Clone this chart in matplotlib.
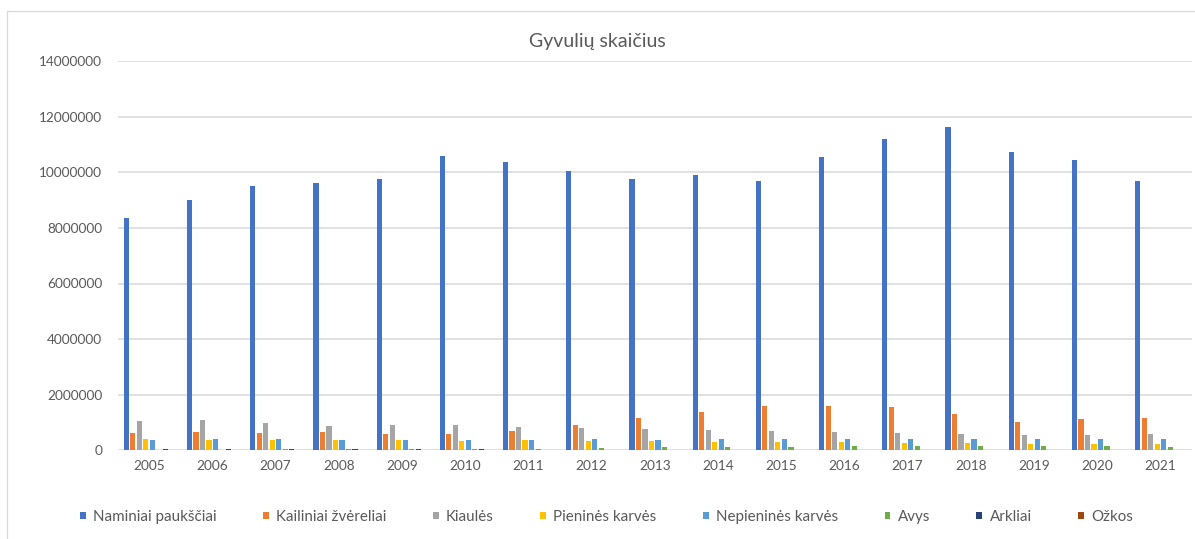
import matplotlib
matplotlib.use("Agg")
import matplotlib.pyplot as plt
import numpy as np
from matplotlib.patches import Rectangle

plt.rcParams['font.family'] = ['Lato', 'DejaVu Sans']

years = [str(y) for y in range(2005, 2022)]

series_names = [
    "Naminiai paukščiai", "Kailiniai žvėreliai", "Kiaulės", "Pieninės karvės",
    "Nepieninės karvės", "Avys", "Arkliai", "Ožkos",
]

naminiai_pauksciai = [8340000, 9020000, 9490000, 9610000, 9770000, 10580000, 10370000, 10050000,
                      9770000, 9920000, 9670000, 10550000, 11210000, 11640000, 10740000, 10430000, 9680000]
kailiniai_zvereliai = [633000, 669000, 633000, 669000, 576000, 586000, 709000, 921000,
                       1170000, 1390000, 1600000, 1600000, 1570000, 1320000, 1030000, 1130000, 1160000]
kiaules = [1065000, 1100000, 1000000, 885000, 921000, 921000, 853000, 802000,
           766000, 730000, 694000, 669000, 633000, 586000, 550000, 550000, 586000]
pienines_karves = [406000, 381000, 381000, 381000, 381000, 349000, 360000, 324000,
                   324000, 299000, 299000, 299000, 263000, 263000, 237000, 237000, 237000]
nepienines_karves = [381000, 417000, 417000, 381000, 381000, 381000, 381000, 417000,
                     381000, 417000, 417000, 417000, 417000, 417000, 396000, 396000, 396000]
avys = [20000, 22000, 50000, 50000, 50000, 52000, 50000, 94000,
        119000, 108000, 130000, 166000, 166000, 166000, 166000, 144000, 130000]
arkliai = [50000, 50000, 50000, 50000, 48000, 47000, 8000, 8000,
           7000, 7000, 7000, 6000, 6000, 6000, 6000, 5000, 5000]
ozkos = [6000, 6000, 6000, 5000, 5000, 5000, 5000, 5000,
         5000, 5000, 5000, 5000, 4000, 4000, 4000, 4000, 4000]

y_ticks = [0, 2000000, 4000000, 6000000, 8000000, 10000000, 12000000, 14000000]

series_values = [naminiai_pauksciai, kailiniai_zvereliai, kiaules, pienines_karves,
                 nepienines_karves, avys, arkliai, ozkos]
colors = ["#4472C4", "#ED7D31", "#A5A5A5", "#FFC000",
          "#5B9BD5", "#70AD47", "#264478", "#9E480E"]

W, H = 1195, 539
fig = plt.figure(figsize=(W / 100, H / 100), dpi=100)
fig.patch.set_facecolor("white")

# outer chart frame
fig.patches.append(Rectangle((7 / W, -0.05), 1.2, 1 - 11 / H + 0.05, transform=fig.transFigure,
                             fill=False, edgecolor="#D9D9D9", linewidth=0.9))

ax = fig.add_axes([117.5 / W, (H - 450.3) / H, (1192 - 117.5) / W, (450.3 - 61.1) / H])

x = np.arange(len(years))
slot = 0.103
bar_w = 0.082
n = len(series_values)
for i, (name, vals, col) in enumerate(zip(series_names, series_values, colors)):
    offs = (i - (n - 1) / 2) * slot
    ax.bar(x + offs, vals, width=bar_w, color=col, label=name, zorder=3)

ax.set_xlim(-0.5, len(years) - 0.5)
ax.set_ylim(0, 14000000)
ax.set_yticks(y_ticks)
ax.set_yticklabels([str(v) for v in y_ticks])
ax.set_xticks(x)
ax.set_xticklabels(years)

for s in ax.spines.values():
    s.set_visible(False)
ax.grid(axis="y", color="#D9D9D9", linewidth=1.1, zorder=0)
ax.tick_params(axis="both", length=0, labelsize=9.8, colors="#595959")
ax.tick_params(axis="y", pad=11)
ax.tick_params(axis="x", pad=7)

fig.text(597 / W, 1 - 42 / H, "Gyvulių skaičius", ha="center", va="center",
         fontsize=14, color="#595959")

handles, labels = ax.get_legend_handles_labels()
leg = fig.legend(handles, labels, ncol=8, loc="center",
                 bbox_to_anchor=(606.5 / W, 1 - 517 / H), frameon=False,
                 fontsize=10.9, handlelength=0.38, handleheight=0.38,
                 handletextpad=0.5, columnspacing=3.05, labelcolor="#595959")

fig.savefig("out.png", dpi=100, facecolor="white")
